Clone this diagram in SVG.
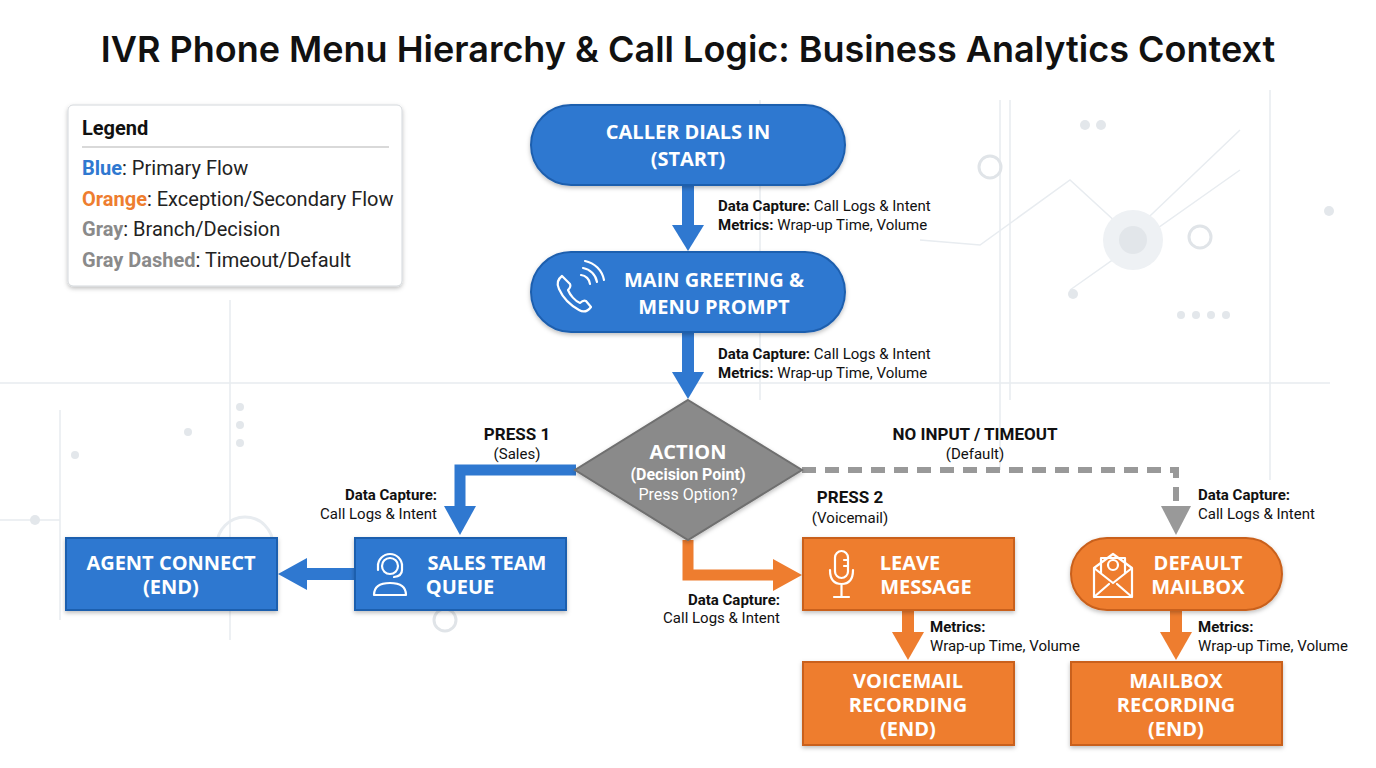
<svg xmlns="http://www.w3.org/2000/svg" width="1376" height="768" viewBox="0 0 1376 768">
<defs>
<style>
.t{font-family:"Open Sans","Liberation Sans",sans-serif;font-weight:700;fill:#fff;font-size:20px;text-anchor:middle}
.l{font-family:Roboto,"Liberation Sans",sans-serif;font-size:15px;fill:#111}
.b{font-weight:700}
.blue{fill:#2f78d0;stroke:#1f5fae;stroke-width:2}
.or{fill:#ee7d2f;stroke:#c9611c;stroke-width:2}
.ic{fill:none;stroke:#fff;stroke-width:2.2;stroke-linecap:round;stroke-linejoin:round}
.bg{stroke:#e8ecf0;stroke-width:1.5;fill:none}
</style>
<filter id="sh" x="-10%" y="-10%" width="120%" height="130%"><feDropShadow dx="0" dy="2" stdDeviation="2" flood-opacity="0.25"/></filter>
</defs>
<rect width="1376" height="768" fill="#fff"/>
<g id="background">
<path class="bg" d="M0 383H1330M0 520H60M230 300V640M60 410V620M1000 100V470M1270 90V480"/>
<path class="bg" d="M1010 100V400M760 100V400M920 240L980 245L1070 180L1130 235L1240 130M1070 290L1240 170" stroke="#dde3ea"/>
<circle cx="1133" cy="240" r="30" fill="#eef1f4"/><circle cx="1133" cy="240" r="14" fill="#e2e6ea"/>
<circle cx="990" cy="167" r="11" fill="none" stroke="#e0e4e8" stroke-width="3"/>
<circle cx="1200" cy="237" r="11" fill="none" stroke="#e0e4e8" stroke-width="3"/>
<circle cx="245" cy="545" r="28" fill="none" stroke="#e8ecf0" stroke-width="3"/>
<circle cx="445" cy="620" r="11" fill="none" stroke="#e0e4e8" stroke-width="3"/>
<g fill="#e3e7eb"><circle cx="1085" cy="125" r="5"/><circle cx="1101" cy="125" r="5"/><circle cx="1329" cy="211" r="5"/><circle cx="1073" cy="294" r="5"/><circle cx="1181" cy="315" r="4"/><circle cx="1196" cy="315" r="4"/><circle cx="1211" cy="315" r="4"/><circle cx="1226" cy="315" r="4"/><circle cx="188" cy="432" r="4"/><circle cx="240" cy="407" r="4"/><circle cx="240" cy="425" r="4"/><circle cx="240" cy="443" r="4"/><circle cx="75" cy="455" r="4"/><circle cx="35" cy="520" r="5"/></g>
</g>
<text x="688" y="62" text-anchor="middle" font-family="Inter,'Open Sans',sans-serif" font-weight="600" font-size="36" fill="#111">IVR Phone Menu Hierarchy &amp; Call Logic: Business Analytics Context</text>
<g id="legend">
<rect x="68" y="105" width="334" height="181" rx="5" fill="#fff" stroke="#d4d8dc" filter="url(#sh)"/>
<text x="82" y="135" font-family="Roboto,sans-serif" font-weight="700" font-size="20" fill="#111">Legend</text>
<line x1="82" y1="147" x2="389" y2="147" stroke="#ccc" stroke-width="1.5"/>
<g font-family="Roboto,sans-serif" font-size="20" fill="#222">
<text x="82" y="175"><tspan fill="#2f78d0" font-weight="700">Blue</tspan>: Primary Flow</text>
<text x="82" y="206"><tspan fill="#ee7d2f" font-weight="700">Orange</tspan>: Exception/Secondary Flow</text>
<text x="82" y="236"><tspan fill="#8a8a8a" font-weight="700">Gray</tspan>: Branch/Decision</text>
<text x="82" y="267"><tspan fill="#8a8a8a" font-weight="700">Gray Dashed</tspan>: Timeout/Default</text>
</g>
</g>
<g id="connectors">
<g fill="#2f78d0">
<rect x="682" y="185" width="12" height="42"/><polygon points="672,225 704,225 688,251"/>
<rect x="682" y="332" width="12" height="42"/><polygon points="672,372 704,372 688,399"/>
<path d="M576 470H460V508" fill="none" stroke="#2f78d0" stroke-width="11"/><polygon points="444,506 476,506 460,535"/>
<rect x="305" y="568" width="50" height="12"/><polygon points="307,558 307,590 278,574"/>
</g>
<g fill="#ee7d2f">
<path d="M688 540V575H775" fill="none" stroke="#ee7d2f" stroke-width="11"/><polygon points="773,559 773,591 802,575"/>
<rect x="902" y="610" width="12" height="24"/><polygon points="892,632 924,632 908,660"/>
<rect x="1170" y="610" width="12" height="24"/><polygon points="1160,632 1192,632 1176,660"/>
</g>
<path d="M802 470H1176V508" fill="none" stroke="#999" stroke-width="6" stroke-dasharray="14,9"/>
<polygon points="1161,506 1191,506 1176,535" fill="#999"/>
</g>
<g id="labels" class="l">
<text x="718" y="211"><tspan class="b">Data Capture:</tspan> Call Logs &amp; Intent</text>
<text x="718" y="230"><tspan class="b">Metrics:</tspan> Wrap-up Time, Volume</text>
<text x="718" y="359"><tspan class="b">Data Capture:</tspan> Call Logs &amp; Intent</text>
<text x="718" y="378"><tspan class="b">Metrics:</tspan> Wrap-up Time, Volume</text>
<text x="517" y="440" text-anchor="middle" class="b" font-size="17">PRESS 1</text>
<text x="517" y="459" text-anchor="middle">(Sales)</text>
<text x="437" y="500" text-anchor="end" class="b">Data Capture:</text>
<text x="437" y="519" text-anchor="end">Call Logs &amp; Intent</text>
<text x="975" y="440" text-anchor="middle" class="b" font-size="17">NO INPUT / TIMEOUT</text>
<text x="975" y="459" text-anchor="middle">(Default)</text>
<text x="850" y="503" text-anchor="middle" class="b" font-size="17">PRESS 2</text>
<text x="850" y="523" text-anchor="middle">(Voicemail)</text>
<text x="780" y="605" text-anchor="end" class="b">Data Capture:</text>
<text x="780" y="623" text-anchor="end">Call Logs &amp; Intent</text>
<text x="1198" y="500" class="b">Data Capture:</text>
<text x="1198" y="519">Call Logs &amp; Intent</text>
<text x="930" y="632" class="b">Metrics:</text>
<text x="930" y="651">Wrap-up Time, Volume</text>
<text x="1198" y="632" class="b">Metrics:</text>
<text x="1198" y="651">Wrap-up Time, Volume</text>
</g>
<g id="start"><rect class="blue" x="531" y="105" width="314" height="80" rx="40" filter="url(#sh)"/>
<text class="t" x="688" y="139">CALLER DIALS IN</text><text class="t" x="688" y="166">(START)</text></g>
<g id="greeting"><rect class="blue" x="531" y="252" width="314" height="80" rx="40" filter="url(#sh)"/>
<path class="ic" d="M562 276c-4 3-6 7-3 13 4 9 11 16 20 21 5 3 9 1 12-3l-5-6c-2-1-4 0-6 2-5-2-10-8-12-13 2-2 3-4 2-6z"/>
<path class="ic" d="M581 275a10 10 0 0 1 9 9M583 268a17 17 0 0 1 14 14M585 261a24 24 0 0 1 19 19"/>
<text class="t" x="714" y="287">MAIN GREETING &amp;</text><text class="t" x="714" y="314">MENU PROMPT</text></g>
<g id="decision"><polygon points="688,400 802,470 688,540 575,470" fill="#8a8a8a" stroke="#6f6f6f" stroke-width="2" filter="url(#sh)"/>
<text class="t" x="688" y="459" font-size="21">ACTION</text>
<text x="688" y="480" text-anchor="middle" font-family="Roboto,sans-serif" font-weight="700" font-size="16" fill="#fff">(Decision Point)</text>
<text x="688" y="500" text-anchor="middle" font-family="Roboto,sans-serif" font-size="16" fill="#fff">Press Option?</text></g>
<g id="sales"><rect class="blue" x="355" y="538" width="211" height="72" filter="url(#sh)"/>
<circle class="ic" cx="390" cy="566" r="8"/><path class="ic" d="M378 566a12 12 0 0 1 24 0M378 564v6M402 564v6q0 6-8 7M374 595q0-12 16-12q16 0 16 12z"/>
<text class="t" x="487" y="570" font-size="19">SALES TEAM</text><text class="t" x="460" y="594" font-size="19">QUEUE</text></g>
<g id="agent"><rect class="blue" x="66" y="538" width="211" height="72" filter="url(#sh)"/>
<text class="t" x="171" y="570" font-size="19">AGENT CONNECT</text><text class="t" x="171" y="594" font-size="19">(END)</text></g>
<g id="leave"><rect class="or" x="803" y="538" width="211" height="72" filter="url(#sh)"/>
<rect class="ic" x="835" y="551" width="13" height="27" rx="6.5"/><path class="ic" d="M830 570q0 14 11.5 14q11.5 0 11.5-14M841.5 584v13M834 597h15M844 560h4M844 566h4"/>
<text class="t" x="910" y="570" font-size="19">LEAVE</text><text class="t" x="926" y="594" font-size="19">MESSAGE</text></g>
<g id="mailbox"><rect class="or" x="1071" y="538" width="211" height="72" rx="36" filter="url(#sh)"/>
<path class="ic" d="M1094 568v29h38v-29l-19-14z M1094 597l15-13M1132 597l-15-13M1094 568l19 15l19-15M1101 573v-15h24v15"/>
<circle class="ic" cx="1113" cy="565" r="5"/>
<text class="t" x="1198" y="570" font-size="19">DEFAULT</text><text class="t" x="1198" y="594" font-size="19">MAILBOX</text></g>
<g id="voicemail"><rect class="or" x="803" y="662" width="211" height="83" filter="url(#sh)"/>
<text class="t" x="908" y="688" font-size="19">VOICEMAIL</text><text class="t" x="908" y="712" font-size="19">RECORDING</text><text class="t" x="908" y="736" font-size="19">(END)</text></g>
<g id="mailboxrec"><rect class="or" x="1071" y="662" width="211" height="83" filter="url(#sh)"/>
<text class="t" x="1176" y="688" font-size="19">MAILBOX</text><text class="t" x="1176" y="712" font-size="19">RECORDING</text><text class="t" x="1176" y="736" font-size="19">(END)</text></g>
</svg>
